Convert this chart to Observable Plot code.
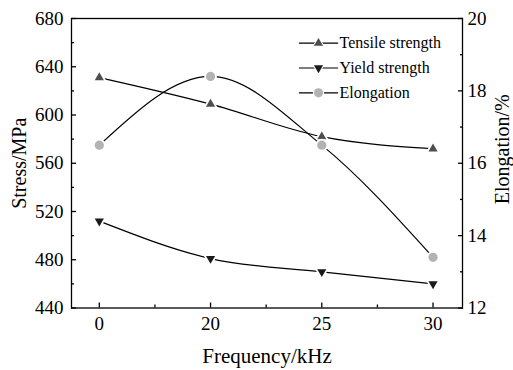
<!DOCTYPE html>
<html><head><meta charset="utf-8">
<script src="https://cdn.jsdelivr.net/npm/d3@7"></script>
<script src="https://cdn.jsdelivr.net/npm/@observablehq/plot@0.6"></script>
<style>body{margin:0;background:#fff;}</style>
</head><body><div id="chart"></div>
<script>
const frequencies = ["0", "20", "25", "30"];
const tensileStrength = [631, 609, 582, 572];
const yieldStrength = [512, 481, 470, 460];
const elongation = [16.5, 18.4, 16.5, 13.4];
const stressTicks = [440, 480, 520, 560, 600, 640, 680];
const elongationTicks = [12, 14, 16, 18, 20];
const seriesNames = ["Tensile strength", "Yield strength", "Elongation"];

const sMin = 440, sMax = 680, eMin = 12, eMax = 20;
const e2s = e => sMin + (e - eMin) * (sMax - sMin) / (eMax - eMin);
const s2e = s => eMin + (s - sMin) * (eMax - eMin) / (sMax - sMin);
const mids = a => a.slice(1).map((v, i) => (v + a[i]) / 2);

const idx = frequencies.map((_, i) => i);
const tensileData = idx.map(i => ({x: i, y: tensileStrength[i]}));
const yieldData = idx.map(i => ({x: i, y: yieldStrength[i]}));
const elongData = idx.map(i => ({x: i, y: e2s(elongation[i])}));

const styles = [
  {data: tensileData, symbol: "triangle", rotate: 0, fill: "#4d4d4d", r: 3.4},
  {data: yieldData, symbol: "triangle", rotate: 180, fill: "#1a1a1a", r: 3.4},
  {data: elongData, symbol: "circle", rotate: 0, fill: "#b3b3b3", r: 4.6}
];

const marks = [];
styles.forEach(s => {
  marks.push(Plot.line(s.data, {x: "x", y: "y", curve: "monotone-x", stroke: "black", strokeWidth: 1.2}));
  marks.push(Plot.dot(s.data, {x: "x", y: "y", symbol: s.symbol, rotate: s.rotate, r: s.r, fill: s.fill,
    stroke: "white", strokeWidth: 3.5, paintOrder: "stroke"}));
});

// legend
const rowTop = 24.7, rowGap = 24.8;
styles.forEach((s, i) => {
  const dy = rowTop + i * rowGap;
  marks.push(Plot.frame({anchor: "top", insetTop: dy, insetLeft: 228, insetRight: 125, stroke: "black", strokeWidth: 1.2}));
  marks.push(Plot.dot([0], {frameAnchor: "top-left", dx: 247, dy, symbol: s.symbol, rotate: s.rotate, r: s.r, fill: s.fill,
    stroke: "white", strokeWidth: 2, paintOrder: "stroke"}));
  marks.push(Plot.text([seriesNames[i]], {text: d => d, frameAnchor: "top-left", dx: 268, dy, textAnchor: "start", lineAnchor: "middle", fontSize: 16}));
});

const plot = Plot.plot({
  width: 513, height: 370,
  marginLeft: 71, marginRight: 51, marginTop: 18, marginBottom: 62.5,
  style: {fontFamily: "Liberation Serif", fontSize: "19px", color: "#000", background: "#fff"},
  x: {type: "linear", domain: [-0.25, 3.265]},
  y: {domain: [sMin, sMax]},
  marks: [
    Plot.axisX({ticks: idx, tickFormat: i => frequencies[i], tickSize: -5, tickPadding: 13, label: null, strokeWidth: 1.3}),
    Plot.axisX({ticks: mids(idx), tickFormat: () => "", tickSize: -3, label: null, strokeWidth: 1.3}),
    Plot.axisY({anchor: "left", ticks: stressTicks, tickSize: -5, tickPadding: 13, label: null, strokeWidth: 1.3}),
    Plot.axisY({anchor: "left", ticks: mids(stressTicks), tickFormat: () => "", tickSize: -3, label: null, strokeWidth: 1.3}),
    Plot.axisY({anchor: "right", ticks: elongationTicks.map(e2s), tickFormat: s => String(Math.round(s2e(s))), tickSize: -5, tickPadding: 10, label: null, strokeWidth: 1.3}),
    Plot.axisY({anchor: "right", ticks: mids(elongationTicks).map(e2s), tickFormat: () => "", tickSize: -3, label: null, strokeWidth: 1.3}),
    Plot.frame({stroke: "black", strokeWidth: 1.3}),
    ...marks,
    Plot.text(["Stress/MPa"], {text: d => d, frameAnchor: "left", dx: -52, rotate: -90, textAnchor: "middle", lineAnchor: "middle", fontSize: 20}),
    Plot.text(["Elongation/%"], {text: d => d, frameAnchor: "right", dx: 40, dy: -14, rotate: -90, textAnchor: "middle", lineAnchor: "middle", fontSize: 20}),
    Plot.text(["Frequency/kHz"], {text: d => d, frameAnchor: "bottom", dy: 48, textAnchor: "middle", lineAnchor: "middle", fontSize: 21})
  ]
});
document.getElementById("chart").appendChild(plot);
</script>
</body></html>
